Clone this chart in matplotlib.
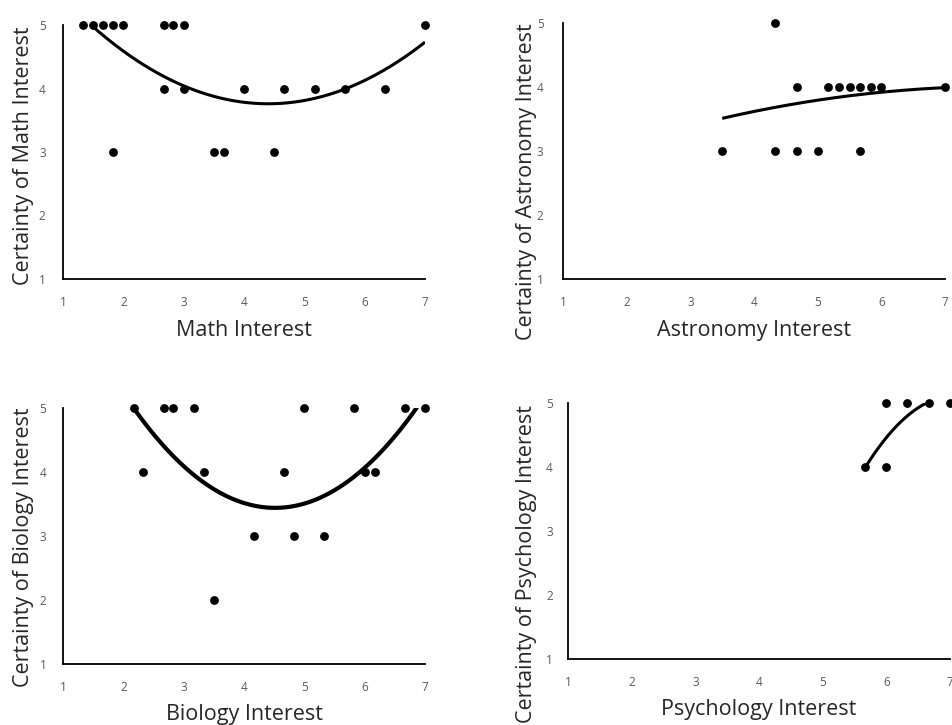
import numpy as np
import matplotlib
matplotlib.use("Agg")
import matplotlib.pyplot as plt

# ---- data ----
math_x = [1.33, 1.5, 1.67, 1.83, 2.0, 2.67, 2.83, 3.0, 7.0,
          2.67, 3.0, 4.0, 4.67, 5.17, 5.67, 6.33,
          1.83, 3.5, 3.67, 4.5]
math_y = [5, 5, 5, 5, 5, 5, 5, 5, 5,
          4, 4, 4, 4, 4, 4, 4,
          3, 3, 3, 3]

astro_x = [4.33,
           4.67, 5.17, 5.33, 5.5, 5.67, 5.83, 6.0, 7.0,
           3.5, 4.33, 4.67, 5.0, 5.67]
astro_y = [5,
           4, 4, 4, 4, 4, 4, 4, 4,
           3, 3, 3, 3, 3]

bio_x = [2.17, 2.67, 2.83, 3.17, 5.0, 5.83, 6.67, 7.0,
         2.33, 3.33, 4.67, 6.0, 6.17,
         4.17, 4.83, 5.33,
         3.5]
bio_y = [5, 5, 5, 5, 5, 5, 5, 5,
         4, 4, 4, 4, 4,
         3, 3, 3,
         2]

psy_x = [6.0, 6.33, 6.67, 7.0, 5.67, 6.0]
psy_y = [5, 5, 5, 5, 4, 4]

# polynomial (order 2) trendlines: points
math_trend_x = [1.5, 4.46, 7.0]
math_trend_y = [4.97, 3.76, 4.73]
astro_trend_x = [3.5, 5.04, 7.0]
astro_trend_y = [3.51, 3.80, 3.99]
bio_trend_x = [2.17, 4.48, 6.86]
bio_trend_y = [5.0, 3.44, 5.0]
psy_trend_x = [5.66, 6.06, 6.63]
psy_trend_y = [3.98, 4.53, 5.0]

panels = [
    ("Math Interest", "Certainty of Math Interest", math_x, math_y,
     math_trend_x, math_trend_y, 2.2),
    ("Astronomy Interest", "Certainty of Astronomy Interest", astro_x, astro_y,
     astro_trend_x, astro_trend_y, 2.2),
    ("Biology Interest", "Certainty of Biology Interest", bio_x, bio_y,
     bio_trend_x, bio_trend_y, 3.0),
    ("Psychology Interest", "Certainty of Psychology Interest", psy_x, psy_y,
     psy_trend_x, psy_trend_y, 2.2),
]

ticks = [1, 2, 3, 4, 5, 6, 7]
yticks = [1, 2, 3, 4, 5]

plt.rcParams['font.family'] = ['Open Sans', 'DejaVu Sans']

W, H = 952, 725
fig = plt.figure(figsize=(W / 100, H / 100), dpi=100)

# axes rectangles in pixel coords: left, right, top, bottom
rects = [
    (63, 425, 25, 279),
    (563, 945, 23, 279),
    (63, 425, 408, 664),
    (568, 950, 403, 659),
]
ypads = [12.5, 14, 12, 11]
ylab_off = [29, 26, 29, 31]
ylab_center = [156, 182, 547, 564]   # pixel row of the y-label centre
xlab_off = [41, 41, 40, 40]

tick_col = '#595959'
lab_col = '#262626'
for (xl, yl, xs, ys, tx, ty, lw), (l, r, t, b), yp, yo, yc, xo in zip(
        panels, rects, ypads, ylab_off, ylab_center, xlab_off):
    w, h = r - l, b - t
    ax = fig.add_axes([l / W, (H - b) / H, w / W, h / H])
    ax.set_xlim(1, 7)
    ax.set_ylim(1, 5)
    ax.set_xticks(ticks)
    ax.set_yticks(yticks)
    for s in ['top', 'right']:
        ax.spines[s].set_visible(False)
    for s in ['left', 'bottom']:
        ax.spines[s].set_linewidth(1.3)
        ax.spines[s].set_color('black')
    ax.tick_params(length=0, labelsize=8.5, labelcolor=tick_col)
    ax.tick_params(axis='x', pad=12.5)
    ax.tick_params(axis='y', pad=yp)
    xa = np.array(xs, dtype=float)
    ya = np.array(ys, dtype=float)
    coef = np.polyfit(tx, ty, 2)
    xx = np.linspace(xa.min(), xa.max(), 300)
    ax.plot(xx, np.polyval(coef, xx), color='black', lw=lw, solid_capstyle='butt')
    ax.scatter(xa, ya, s=40, color='black', zorder=3, clip_on=False, linewidths=0)
    ax.set_xlabel(xl, fontsize=15.5, color=lab_col)
    ax.set_ylabel(yl, fontsize=15.5, color=lab_col)
    ax.xaxis.set_label_coords(0.5, -xo / h)
    ax.yaxis.set_label_coords(-yo / w, (b - yc) / h)

fig.savefig("out.png", dpi=100)
